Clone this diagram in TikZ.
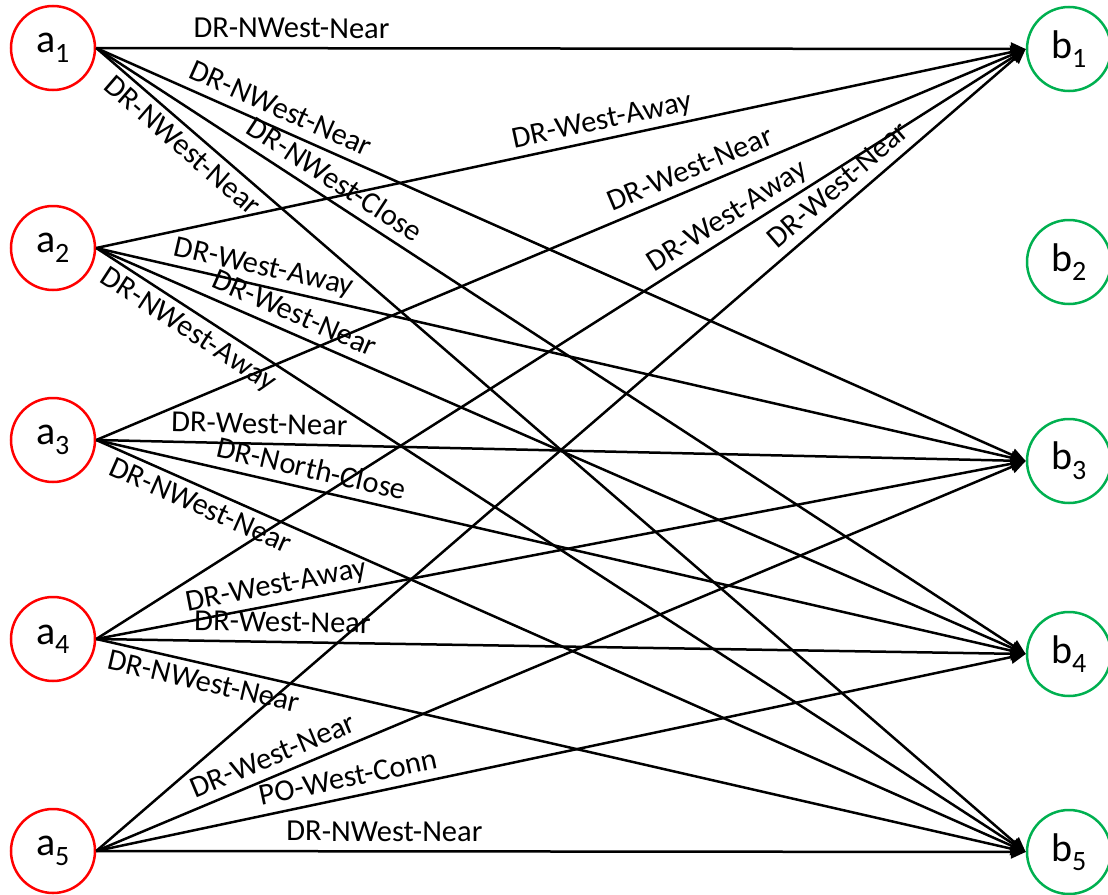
\documentclass[tikz,border=0pt]{standalone}
\usepackage{fontspec}
\setmainfont{Carlito}
\usepackage{tikz}
\usetikzlibrary{arrows.meta}
\definecolor{nodered}{RGB}{255,0,0}
\definecolor{nodegreen}{RGB}{0,176,80}

\begin{document}
\begin{tikzpicture}[x=1pt,y=-1pt,
		anode/.style={circle,draw=nodered,line width=2.5pt,minimum size=84pt,inner sep=0pt,font=\fontsize{40}{40}\selectfont},
		bnode/.style={circle,draw=nodegreen,line width=2.5pt,minimum size=84pt,inner sep=0pt,font=\fontsize{40}{40}\selectfont},
		edge/.style={line width=2.5pt,-{Triangle[length=15pt,width=13pt]}},
		lbl/.style={draw=none,fill=none,sloped,inner sep=0pt,text depth=0pt,font=\fontsize{30.5}{31}\selectfont}]
		\useasboundingbox (0,0) rectangle (1108,894);
		
		% left column
		\node[anode] (a1) at (53,48) {a\textsubscript{1}};
		\node[anode] (a2) at (53,248) {a\textsubscript{2}};
		\node[anode] (a3) at (53,440) {a\textsubscript{3}};
		\node[anode] (a4) at (53,639) {a\textsubscript{4}};
		\node[anode] (a5) at (53,851) {a\textsubscript{5}};
		
		% right column
		\node[bnode] (b1) at (1069,49) {b\textsubscript{1}};
		\node[bnode] (b2) at (1069,262) {b\textsubscript{2}};
		\node[bnode] (b3) at (1069,461) {b\textsubscript{3}};
		\node[bnode] (b4) at (1069,654) {b\textsubscript{4}};
		\node[bnode] (b5) at (1069,852) {b\textsubscript{5}};
		
		\draw[edge] (a1.east)--(b1.west) node[lbl,pos=.21,above=9pt] {DR-NWest-Near};
		\draw[edge] (a1.east)--(b3.west) node[lbl,pos=.19,above=9pt] {DR-NWest-Near};
		\draw[edge] (a1.east)--(b4.west) node[lbl,pos=.245,above=9pt] {DR-NWest-Close};
		\draw[edge] (a1.east)--(b5.west) node[lbl,pos=.105,below=6pt] {DR-NWest-Near};
		
		\draw[edge] (a2.east)--(b1.west) node[lbl,pos=.548,above=9pt] {DR-West-Away};
		\draw[edge] (a2.east)--(b3.west) node[lbl,pos=.176,above=9pt] {DR-West-Away};
		\draw[edge] (a2.east)--(b4.west) node[lbl,pos=.205,above=9pt] {DR-West-Near};
		\draw[edge] (a2.east)--(b5.west) node[lbl,pos=.11,below=6pt] {DR-NWest-Away};
		
		\draw[edge] (a3.east)--(b1.west) node[lbl,pos=.647,above=9pt] {DR-West-Near};
		\draw[edge] (a3.east)--(b3.west) node[lbl,pos=.175,above=9pt] {DR-West-Near};
		\draw[edge] (a3.east)--(b4.west) node[lbl,pos=.227,above=9pt] {DR-North-Close};
		\draw[edge] (a3.east)--(b5.west) node[lbl,pos=.12,below=6pt] {DR-NWest-Near};
		
		\draw[edge] (a4.east)--(b1.west) node[lbl,pos=.69,above=9pt] {DR-West-Away};
		\draw[edge] (a4.east)--(b3.west) node[lbl,pos=.197,above=9pt] {DR-West-Away};
		\draw[edge] (a4.east)--(b4.west) node[lbl,pos=.2,above=9pt] {DR-West-Near};
		\draw[edge] (a4.east)--(b5.west) node[lbl,pos=.12,below=6pt] {DR-NWest-Near};
		
		\draw[edge] (a5.east)--(b1.west) node[lbl,pos=.812,above=9pt] {DR-West-Near};
		\draw[edge] (a5.east)--(b3.west) node[lbl,pos=.198,above=9pt] {DR-West-Near};
		\draw[edge] (a5.east)--(b4.west) node[lbl,pos=.275,above=9pt] {PO-West-Conn};
		\draw[edge] (a5.east)--(b5.west) node[lbl,pos=.31,above=9pt] {DR-NWest-Near};
	\end{tikzpicture}
\end{document}
